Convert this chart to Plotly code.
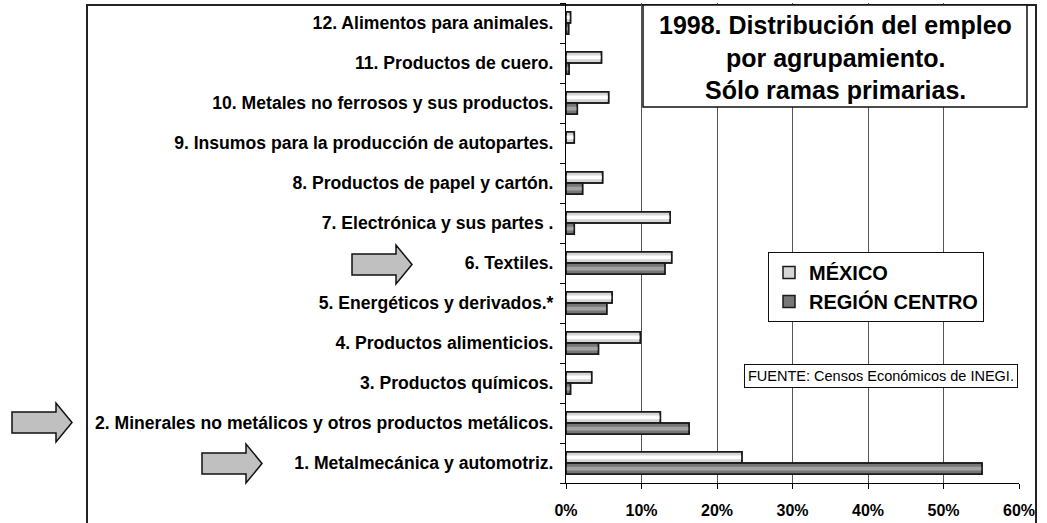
import plotly.graph_objects as go

# data (share of employment, %)
categories = [
    "1. Metalmecánica y automotriz.",
    "2. Minerales no metálicos y otros productos metálicos.",
    "3. Productos químicos.",
    "4. Productos alimenticios.",
    "5. Energéticos y derivados.*",
    "6. Textiles.",
    "7. Electrónica y sus partes .",
    "8. Productos de papel y cartón.",
    "9. Insumos para la producción de autopartes.",
    "10. Metales no ferrosos y sus productos.",
    "11. Productos de cuero.",
    "12. Alimentos para animales.",
]
mexico = [23.3, 12.5, 3.4, 9.85, 6.1, 14.0, 13.8, 4.85, 1.1, 5.65, 4.7, 0.6]
region_centro = [55.1, 16.3, 0.6, 4.3, 5.4, 13.1, 1.1, 2.2, None, 1.5, 0.4, 0.35]
series_names = ["MÉXICO", "REGIÓN CENTRO"]
x_ticks = [0, 10, 20, 30, 40, 50, 60]

FONT = "Liberation Sans, Arial, sans-serif"
W, H = 1047, 523
L, R, T, B = 566, 1019, 3, 483  # plot area in pixels


def px(x):
    return (x - L) / (R - L)


def py(y):
    return (B - y) / (B - T)


def frac(vals):
    return [None if v is None else v / 100 for v in vals]


fig = go.Figure()

BW = 0.28  # bar thickness in category units


def add_series(name, vals, base, stripe, offset):
    v = frac(vals)
    # base bar (legend entry)
    fig.add_trace(go.Bar(
        y=categories, x=v, orientation="h", name=name,
        width=BW, offset=offset,
        marker=dict(color=base, line=dict(color="#1a1a1a", width=1.5)),
    ))
    # lighter stripe to fake the cylinder shading
    fig.add_trace(go.Bar(
        y=categories, x=v, orientation="h", showlegend=False,
        width=BW * 0.34, offset=offset + BW * 0.33,
        marker=dict(color=stripe, line=dict(width=0)),
    ))
    # outline again on top
    fig.add_trace(go.Bar(
        y=categories, x=v, orientation="h", showlegend=False,
        width=BW, offset=offset,
        marker=dict(color="rgba(0,0,0,0)", line=dict(color="#1a1a1a", width=1.5)),
    ))


add_series(series_names[0], mexico, "#d6d6d6", "#ffffff", 0.0)
add_series(series_names[1], region_centro, "#777777", "#a3a3a3", -BW)

shapes = []


def rect(x0, y0, x1, y1, **kw):
    shapes.append(dict(type="rect", xref="paper", yref="paper",
                       x0=px(x0), x1=px(x1), y0=py(y0), y1=py(y1), **kw))


def arrow(x0, x1, yc, head_len=16, shaft_h=21, head_h=39):
    xs = x1 - head_len
    pts = [(x0, yc - shaft_h / 2), (xs, yc - shaft_h / 2), (xs, yc - head_h / 2),
           (x1, yc), (xs, yc + head_h / 2), (xs, yc + shaft_h / 2), (x0, yc + shaft_h / 2)]
    path = "M " + " L ".join(f"{px(a):.5f},{py(b):.5f}" for a, b in pts) + " Z"
    shapes.append(dict(type="path", xref="paper", yref="paper", path=path,
                       fillcolor="#c0c0c0", line=dict(color="#111111", width=1.5)))


# outer chart frame
rect(87, 5, 1036, 540, line=dict(color="#222222", width=2), layer="below")
# title box
rect(643, 5, 1027, 107, line=dict(color="#111111", width=1.5), fillcolor="white", layer="above")

# arrows pointing at highlighted groups
arrow(352, 412, 264.5)
arrow(12, 72, 422.5)
arrow(202, 262, 463.5)

annotations = []
for txt, yc in [("1998. Distribución del empleo", 25),
                ("por agrupamiento.", 58),
                ("Sólo ramas primarias.", 90)]:
    annotations.append(dict(xref="paper", yref="paper", x=px(835), y=py(yc),
                            text=f"<b>{txt}</b>", showarrow=False,
                            xanchor="center", yanchor="middle",
                            font=dict(family=FONT, size=25, color="black")))

annotations.append(dict(xref="paper", yref="paper", x=px(1018), y=py(375.5),
                        text="FUENTE: Censos Económicos de INEGI.", showarrow=False,
                        xanchor="right", yanchor="middle",
                        bgcolor="white", bordercolor="#111111", borderwidth=1, borderpad=3,
                        font=dict(family=FONT, size=14.5, color="black")))

fig.update_layout(
    width=W, height=H,
    margin=dict(l=L, r=W - R, t=T, b=H - B, pad=0),
    paper_bgcolor="white", plot_bgcolor="white",
    barmode="overlay",
    font=dict(family=FONT, color="black"),
    shapes=shapes,
    annotations=annotations,
    legend=dict(
        x=px(768), y=py(252), xanchor="left", yanchor="top",
        bgcolor="white", bordercolor="#111111", borderwidth=1,
        font=dict(family=FONT, size=20, color="black", weight="bold"),
        itemwidth=30, tracegroupgap=0,
    ),
    xaxis=dict(
        range=[0, 0.6], tickvals=[t / 100 for t in x_ticks], tickformat=".0%",
        showgrid=True, gridcolor="#555555", gridwidth=1,
        showline=True, linecolor="black", linewidth=1,
        ticks="outside", ticklen=5, tickcolor="black",
        zeroline=False, ticklabelstandoff=8,
        tickfont=dict(family=FONT, size=16, color="black", weight="bold"),
    ),
    yaxis=dict(
        type="category", categoryorder="array", categoryarray=categories,
        showgrid=False, showline=True, linecolor="black", linewidth=1,
        ticks="outside", ticklen=5, tickcolor="black", tickson="boundaries",
        ticklabelstandoff=8,
        tickfont=dict(family=FONT, size=17.6, color="black", weight="bold"),
    ),
)

# page body has a default 8px margin; drop it so the figure sits at the window corner
fig.write_html("out.html", config={"displayModeBar": False},
               post_script="document.body.style.margin='0';")
